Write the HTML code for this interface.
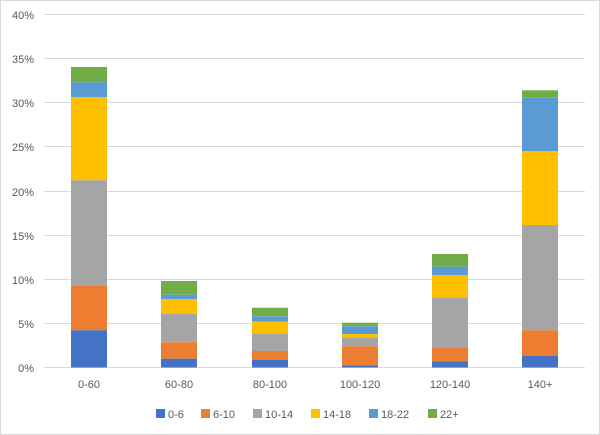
<!DOCTYPE html>
<html><head><meta charset="utf-8"><style>
html,body{margin:0;padding:0;background:#fff}
svg{display:block;font-family:"Liberation Sans",sans-serif}
</style></head><body>
<svg width="600" height="435" viewBox="0 0 600 435" xmlns="http://www.w3.org/2000/svg">
<rect x="0.5" y="0.5" width="599" height="434" fill="#fff" stroke="#d9d9d9"/>
<g stroke="#d9d9d9" stroke-width="1">
<line x1="44" x2="585" y1="14.5" y2="14.5"/>
<line x1="44" x2="585" y1="58.5" y2="58.5"/>
<line x1="44" x2="585" y1="102.5" y2="102.5"/>
<line x1="44" x2="585" y1="146.5" y2="146.5"/>
<line x1="44" x2="585" y1="191.5" y2="191.5"/>
<line x1="44" x2="585" y1="235.5" y2="235.5"/>
<line x1="44" x2="585" y1="279.5" y2="279.5"/>
<line x1="44" x2="585" y1="323.5" y2="323.5"/>
<line x1="44" x2="585" y1="367.5" y2="367.5"/>
</g>
<g font-size="11" fill="#595959" text-anchor="end">
<text x="34" y="19">40%</text><text x="34" y="63">35%</text><text x="34" y="107">30%</text>
<text x="34" y="151">25%</text><text x="34" y="196">20%</text><text x="34" y="240">15%</text>
<text x="34" y="284">10%</text><text x="34" y="328">5%</text><text x="34" y="372">0%</text>
</g>
<!-- bar1 -->
<g>
<rect x="71" y="67" width="36" height="15.3" fill="#70ad47"/>
<rect x="71" y="82.3" width="36" height="15" fill="#5b9bd5"/>
<rect x="71" y="97.3" width="36" height="83" fill="#ffc000"/>
<rect x="71" y="180.3" width="36" height="105" fill="#a5a5a5"/>
<rect x="71" y="285.3" width="36" height="45" fill="#ed7d31"/>
<rect x="71" y="330.3" width="36" height="37.2" fill="#4472c4"/>
</g>
<g>
<rect x="161" y="281" width="36" height="13.7" fill="#70ad47"/>
<rect x="161" y="294.7" width="36" height="4.3" fill="#5b9bd5"/>
<rect x="161" y="299" width="36" height="14.7" fill="#ffc000"/>
<rect x="161" y="313.7" width="36" height="28.6" fill="#a5a5a5"/>
<rect x="161" y="342.3" width="36" height="16.4" fill="#ed7d31"/>
<rect x="161" y="358.7" width="36" height="8.8" fill="#4472c4"/>
</g>
<g>
<rect x="252" y="307.7" width="36" height="8.6" fill="#70ad47"/>
<rect x="252" y="316.3" width="36" height="5.4" fill="#5b9bd5"/>
<rect x="252" y="321.7" width="36" height="12" fill="#ffc000"/>
<rect x="252" y="333.7" width="36" height="17.3" fill="#a5a5a5"/>
<rect x="252" y="351" width="36" height="8.7" fill="#ed7d31"/>
<rect x="252" y="359.7" width="36" height="7.8" fill="#4472c4"/>
</g>
<g>
<rect x="342" y="322.7" width="36" height="3.6" fill="#70ad47"/>
<rect x="342" y="326.3" width="36" height="7.7" fill="#5b9bd5"/>
<rect x="342" y="334" width="36" height="3.7" fill="#ffc000"/>
<rect x="342" y="337.7" width="36" height="8.6" fill="#a5a5a5"/>
<rect x="342" y="346.3" width="36" height="19" fill="#ed7d31"/>
<rect x="342" y="365.3" width="36" height="2.2" fill="#4472c4"/>
</g>
<g>
<rect x="432" y="254" width="36" height="12.7" fill="#70ad47"/>
<rect x="432" y="266.7" width="36" height="8.3" fill="#5b9bd5"/>
<rect x="432" y="275" width="36" height="22.7" fill="#ffc000"/>
<rect x="432" y="297.7" width="36" height="49.6" fill="#a5a5a5"/>
<rect x="432" y="347.3" width="36" height="14" fill="#ed7d31"/>
<rect x="432" y="361.3" width="36" height="6.2" fill="#4472c4"/>
</g>
<g>
<rect x="522" y="90.3" width="36" height="7.4" fill="#70ad47"/>
<rect x="522" y="97.7" width="36" height="53.6" fill="#5b9bd5"/>
<rect x="522" y="151.3" width="36" height="73.7" fill="#ffc000"/>
<rect x="522" y="225" width="36" height="105.3" fill="#a5a5a5"/>
<rect x="522" y="330.3" width="36" height="25.4" fill="#ed7d31"/>
<rect x="522" y="355.7" width="36" height="11.8" fill="#4472c4"/>
</g>
<g font-size="11" fill="#595959" text-anchor="middle">
<text x="89" y="388">0-60</text><text x="179" y="388">60-80</text><text x="270" y="388">80-100</text>
<text x="360" y="388">100-120</text><text x="450" y="388">120-140</text><text x="540" y="388">140+</text>
</g>
<g font-size="11" fill="#595959">
<rect x="156" y="409" width="9" height="9" fill="#4472c4"/><text x="168" y="418">0-6</text>
<rect x="201" y="409" width="9" height="9" fill="#ed7d31"/><text x="213" y="418">6-10</text>
<rect x="253" y="409" width="9" height="9" fill="#a5a5a5"/><text x="265" y="418">10-14</text>
<rect x="311" y="409" width="9" height="9" fill="#ffc000"/><text x="323" y="418">14-18</text>
<rect x="369" y="409" width="9" height="9" fill="#5b9bd5"/><text x="381" y="418">18-22</text>
<rect x="428" y="409" width="9" height="9" fill="#70ad47"/><text x="440" y="418">22+</text>
</g>
</svg>
</body></html>
